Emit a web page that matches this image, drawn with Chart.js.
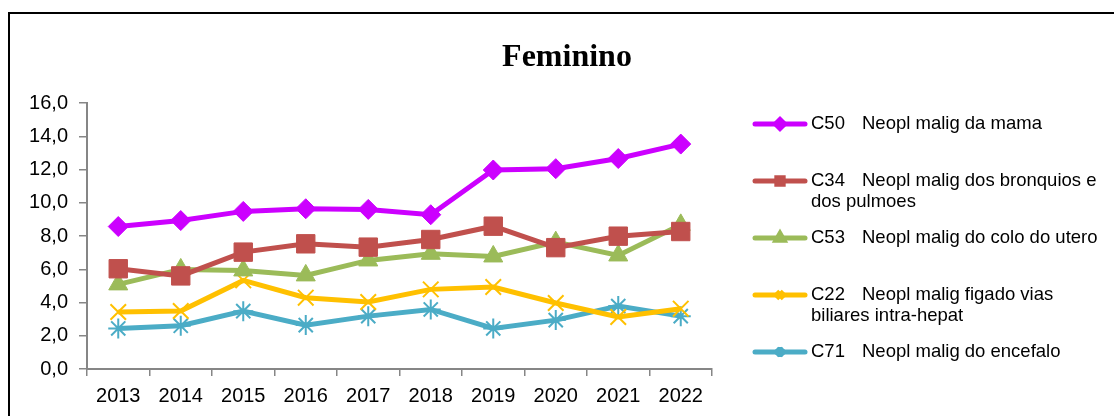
<!DOCTYPE html>
<html>
<head>
<meta charset="utf-8">
<script src="https://cdn.jsdelivr.net/npm/chart.js@4.4.0/dist/chart.umd.min.js"></script>
<style>
    html, body { margin: 0; padding: 0; background: #fff; overflow: hidden; }
    #frame { position: absolute; left: 8px; top: 12px; width: 1200px; height: 500px; border: 2px solid #000; box-sizing: border-box; }
    #wrap { position: absolute; left: 0; top: 0; width: 1114px; height: 416px; }
</style>
</head>
<body>
<div id="frame"></div>
<div id="wrap"><canvas id="chart"></canvas></div>
<script>
(function () {
    "use strict";

    const years = ["2013", "2014", "2015", "2016", "2017", "2018", "2019", "2020", "2021", "2022"];
    const yTicks = [0, 2, 4, 6, 8, 10, 12, 14, 16];

    const codes = ["C50", "C34", "C53", "C22", "C71"];
    const names = [
        "Neopl malig da mama",
        "Neopl malig dos bronquios e\ndos pulmoes",
        "Neopl malig do colo do utero",
        "Neopl malig figado vias\nbiliares intra-hepat",
        "Neopl malig do encefalo",
    ];

    const c50 = [8.57, 8.93, 9.48, 9.64, 9.6, 9.28, 11.97, 12.05, 12.66, 13.53];
    const c34 = [6.03, 5.6, 7.03, 7.53, 7.33, 7.79, 8.59, 7.3, 7.99, 8.27];
    const c53 = [5.09, 5.99, 5.93, 5.63, 6.53, 6.93, 6.77, 7.63, 6.83, 8.67];
    const c22 = [3.43, 3.49, 5.33, 4.29, 4.03, 4.79, 4.93, 3.97, 3.13, 3.63];
    const c71 = [2.44, 2.6, 3.48, 2.64, 3.18, 3.58, 2.44, 2.94, 3.79, 3.18];

    const colors = ["#CC00FF", "#C0504D", "#9BBB59", "#FFC000", "#4BACC6"];
    const styles = ["rectRot", "rect", "triangle", "crossRot", "star"];
    const radii = [10, 13, 11, 11, 10];
    const seriesValues = [c50, c34, c53, c22, c71];

    Chart.defaults.font.family = "'Liberation Sans', Arial, sans-serif";
    Chart.defaults.font.size = 20;
    Chart.defaults.color = "#000";

    // title + legend drawn by hand, Excel style
    const decor = {
        id: "decor",
        afterDraw(chart) {
            const ctx = chart.ctx;
            ctx.save();
            ctx.fillStyle = "#000";
            ctx.font = "bold 32px 'Liberation Serif', 'Times New Roman', serif";
            ctx.textAlign = "center";
            ctx.textBaseline = "alphabetic";
            ctx.fillText("Feminino", 567, 66);

            const rows = [124, 181, 238, 295, 352];
            chart.data.datasets.forEach((ds, i) => {
                const y = rows[i];
                const thin = ds.pointStyle === "crossRot" || ds.pointStyle === "star";
                ctx.strokeStyle = ds.borderColor;
                ctx.fillStyle = ds.borderColor;
                ctx.lineWidth = 5;
                ctx.lineCap = "round";
                ctx.beginPath();
                ctx.moveTo(755, y);
                ctx.lineTo(805, y);
                ctx.stroke();
                ctx.lineCap = "butt";
                Chart.helpers.drawPoint(ctx, {
                    pointStyle: ds.pointStyle,
                    radius: thin ? 5 : 4.5,
                    rotation: 0,
                    borderWidth: thin ? 1 : 1,
                }, 780, y);

                ctx.fillStyle = "#000";
                ctx.font = "18.5px 'Liberation Sans', Arial, sans-serif";
                ctx.textAlign = "left";
                ctx.textBaseline = "middle";
                const lines = names[i].split("\n");
                ctx.fillText(codes[i], 811, y);
                ctx.fillText(lines[0], 862, y);
                if (lines[1]) {
                    ctx.fillText(lines[1], 811, y + 21);
                }
            });
            ctx.restore();
        },
    };

    new Chart(document.getElementById("chart"), {
        type: "line",
        data: {
            labels: years,
            datasets: seriesValues.map((vals, i) => ({
                label: codes[i] + " " + names[i].replace("\n", " "),
                data: vals,
                borderColor: colors[i],
                backgroundColor: colors[i],
                borderWidth: 5,
                pointStyle: styles[i],
                pointRadius: radii[i],
                pointHoverRadius: radii[i],
                pointBorderWidth: (styles[i] === "crossRot" || styles[i] === "star") ? 2 : 1,
                pointBackgroundColor: colors[i],
                pointBorderColor: colors[i],
                tension: 0,
            })),
        },
        options: {
            responsive: true,
            maintainAspectRatio: false,
            animation: false,
            layout: {
                padding: { top: 103, right: 402, left: 0, bottom: 0 },
            },
            plugins: {
                legend: { display: false },
                title: { display: false },
                tooltip: { enabled: false },
            },
            scales: {
                x: {
                    type: "category",
                    offset: true,
                    grid: { offset: true, drawOnChartArea: false, tickLength: 7, color: "#868686", lineWidth: 1.5 },
                    border: { color: "#868686", width: 2 },
                    ticks: { padding: 8, maxRotation: 0, autoSkip: false },
                    afterFit(scale) { scale.height = 47; },
                },
                y: {
                    min: 0,
                    max: 16,
                    afterBuildTicks(scale) {
                        scale.ticks = yTicks.map((v) => ({ value: v }));
                    },
                    grid: { drawOnChartArea: false, tickLength: 8, color: "#868686", lineWidth: 1.5 },
                    border: { color: "#868686", width: 2 },
                    ticks: {
                        padding: 11,
                        callback: (v) => v.toFixed(1).replace(".", ","),
                    },
                    afterFit(scale) { scale.width = 87; },
                },
            },
        },
        plugins: [decor],
    });
})();
</script>
</body>
</html>
